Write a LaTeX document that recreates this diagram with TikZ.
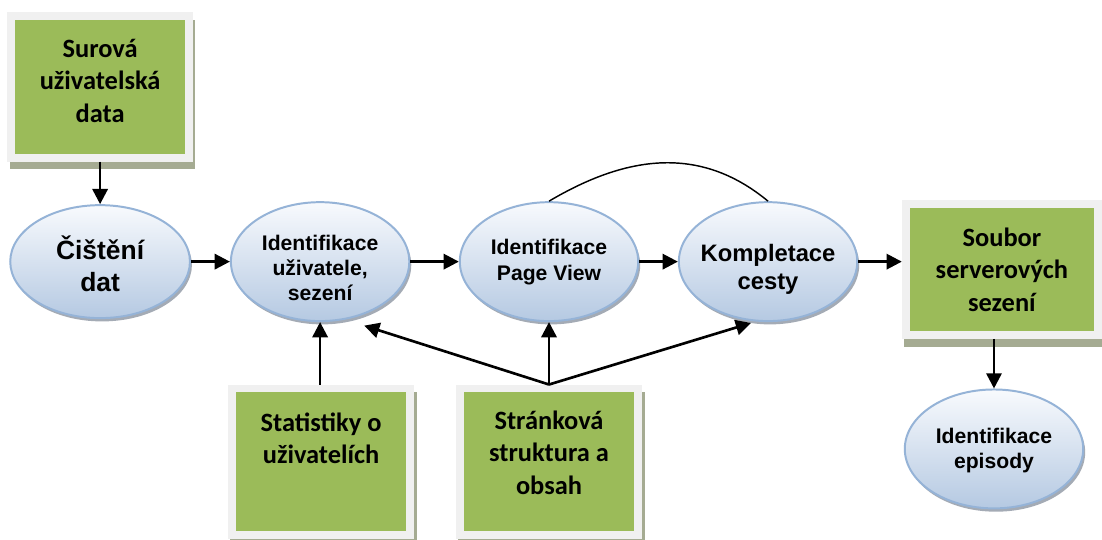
\documentclass[tikz,border=0pt]{standalone}
\usepackage{fontspec}
\newfontfamily\boxfont{Carlito}
\newfontfamily\ellfont{Liberation Sans}
\usetikzlibrary{arrows.meta,calc,shapes.geometric}

\definecolor{boxgreen}{HTML}{9BBB59}
\definecolor{boxframe}{HTML}{F0F0F0}
\definecolor{boxshadow}{HTML}{A5AB92}
\definecolor{elltop}{HTML}{F8FAFD}
\definecolor{ellbot}{HTML}{B5C9E2}
\definecolor{ellline}{HTML}{95B3D7}
\definecolor{ellshadow}{HTML}{8E97A3}

\tikzset{
  gbox/.style={rectangle, fill=boxgreen, draw=boxframe, line width=6pt,
    inner sep=0pt, outer sep=3pt,
    preaction={fill=boxshadow, draw=boxshadow, line width=6pt,
      transform canvas={xshift=1.9pt, yshift=-6pt}}},
  boxtext/.style={font=\boxfont\bfseries\fontsize{20}{24.5}\selectfont,
    align=center, inner sep=0pt},
  proc/.style={ellipse, inner sep=0pt, draw=ellline, line width=1.5pt,
    top color=elltop, bottom color=ellbot,
    minimum width=135pt, minimum height=90pt,
    preaction={fill=ellshadow, opacity=0.8,
      transform canvas={xshift=1.5pt, yshift=-2.5pt}}},
  proctext/.style={font=\ellfont\bfseries\fontsize{16}{19}\selectfont,
    align=center, inner sep=0pt},
  link/.style={-{Triangle[length=11.5pt,width=11.5pt]}, line width=2pt},
  curve/.style={line width=1.1pt},
}

\begin{document}
\begin{tikzpicture}[x=0.75pt,y=-0.75pt]
  \fill[white] (0,0) rectangle (1102,543);

  % data sources and result set
  \node[gbox, minimum width=134.25pt, minimum height=107.25pt,
    label={[boxtext,yshift=4.5pt]center:{Surová\\uživatelská\\data}}]
    (b1) at (101,87.5) {};
  \node[gbox, minimum width=145.5pt, minimum height=99pt,
    label={[boxtext,yshift=0pt]center:{Soubor\\serverových\\sezení}}]
    (b2) at (1011,272) {};
  \node[gbox, minimum width=135pt, minimum height=111pt,
    label={[boxtext,yshift=18pt]center:{Statistiky o\\uživatelích}}]
    (b3) at (324,466) {};
  \node[gbox, minimum width=135pt, minimum height=111pt,
    label={[boxtext,yshift=7pt]center:{Stránková\\struktura a\\obsah}}]
    (b4) at (554,466) {};

  % processing steps
  \node[proc, minimum width=136pt, minimum height=85.5pt,
    label={[proctext,font=\ellfont\bfseries\fontsize{20}{24}\selectfont,yshift=-1.5pt]center:{Čištění\\dat}}]
    (e1) at (101,264) {};
  \node[proc,
    label={[proctext,yshift=-4.5pt]center:{Identifikace\\uživatele,\\sezení}}]
    (e2) at (323,264) {};
  \node[proc,
    label={[proctext,yshift=-0.3pt]center:{Identifikace\\Page View}}]
    (e3) at (554,264) {};
  \node[proc,
    label={[proctext,font=\ellfont\bfseries\fontsize{18}{21}\selectfont,yshift=-6pt]center:{Kompletace\\cesty}}]
    (e4) at (775,264) {};
  \node[proc,
    label={[proctext,yshift=-1.5pt]center:{Identifikace\\episody}}]
    (e5) at (1003,453) {};

  % flow
  \draw[link] (b1) -- (e1);
  \draw[link] (e1) -- (e2);
  \draw[link] (e2) -- (e3);
  \draw[link] (e3) -- (e4);
  \draw[link] (e4.east) -- (e4.east -| b2.west);
  \draw[link] (e5.north |- b2.south) -- (e5.north);
  \draw[link] (e2.south |- b3.north) -- (e2.south);
  \draw[link] (b4.north) -- (e3.south);
  \draw[link] (b4.north) -- ($(e2.-56)+(7,9)$);
  \draw[link] (b4.north) -- ($(e4.-106)+(0,2)$);

  % link back over the top
  \draw[curve] (e3.north) .. controls (630,158) and (705,145) .. (e4.north);
\end{tikzpicture}
\end{document}
